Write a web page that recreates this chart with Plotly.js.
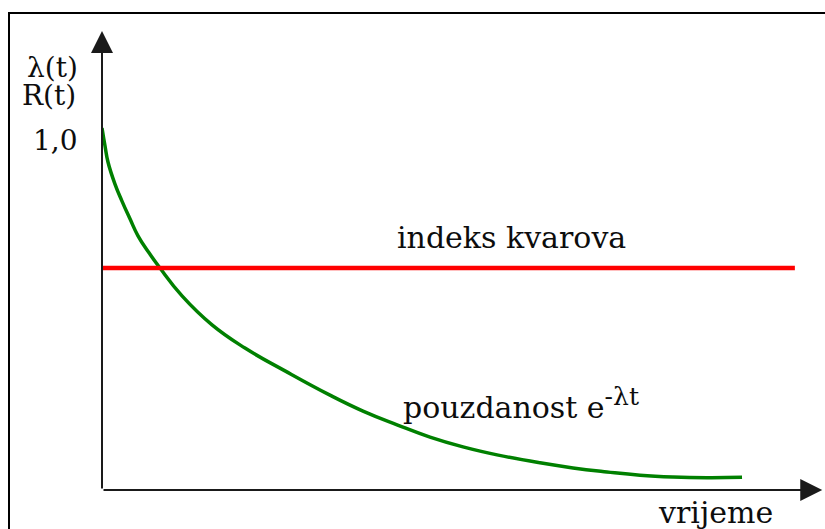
<!DOCTYPE html>
<html lang="en">
<head>
    <meta charset="utf-8">
    <script src="https://cdn.plot.ly/plotly-3.0.1.min.js"></script>
    <title>pouzdanost</title>
    <style>
        body { margin: 0; overflow: hidden; background: #fff; }
        #frame { position: absolute; left: 8px; top: 12px; width: 900px; height: 600px;
                 border-left: 2px solid #000; border-top: 2px solid #000; }
        #divPlot { position: absolute; left: 0; top: 0; width: 825px; height: 529px; }
    </style>
</head>

<body>
    <div id="frame"></div>
    <div id="divPlot"></div>
    <script>
        // vrijeme (t) i pouzdanost R(t) ocitano sa slike
        var vrijeme = [0, 0.042, 0.083, 0.180, 0.277, 0.388, 0.499, 0.652, 0.804, 1.110, 1.526, 1.983,
                       2.538, 3.162, 3.620, 4.092, 4.549, 5.007, 5.479, 6.075, 6.533, 7.004,
                       7.462, 7.920, 8.391, 8.877];
        var pouzdanost = [1.0, 0.950, 0.906, 0.845, 0.798, 0.749, 0.702, 0.655, 0.613, 0.536, 0.456, 0.392,
                          0.329, 0.262, 0.218, 0.180, 0.146, 0.119, 0.097, 0.075, 0.061, 0.050,
                          0.041, 0.036, 0.034, 0.035];
        // indeks kvarova - konstantan
        var kvarX = [0, 9.61];
        var kvarY = [0.613, 0.613];
        var yTickVals = [1];
        var yTickText = ['1,0'];

        var serif = 'DejaVu Serif';
        var ink = '#0d0d0d';

        var trace1 = {
            type: 'scatter',
            mode: 'lines',
            name: 'pouzdanost',
            x: vrijeme,
            y: pouzdanost,
            line: {color: '#008000', width: 3.5, shape: 'spline', smoothing: 1.3},
            cliponaxis: false
        };

        var trace2 = {
            type: 'scatter',
            mode: 'lines',
            name: 'indeks kvarova',
            x: kvarX,
            y: kvarY,
            line: {color: '#ff0000', width: 4.5},
            cliponaxis: false
        };

        var hidden = {showgrid: false, zeroline: false, showline: false,
                      showticklabels: false, ticks: '', fixedrange: true};

        var layout = {
            width: 825,
            height: 529,
            margin: {l: 102, r: 2, t: 28, b: 39},
            paper_bgcolor: 'rgba(0,0,0,0)',
            plot_bgcolor: 'rgba(0,0,0,0)',
            showlegend: false,
            hovermode: false,
            xaxis: Object.assign({}, hidden, {range: [0, 10]}),
            yaxis: Object.assign({}, hidden, {range: [0, 1.276]}),
            annotations: [
                // osi sa strelicama
                {x: 9.99, y: 0, ax: 0, ay: 0, xref: 'x', yref: 'y', axref: 'x', ayref: 'y',
                 text: '', showarrow: true, arrowhead: 2, arrowsize: 2.2, arrowwidth: 2, arrowcolor: '#1a1a1a'},
                {x: 0, y: 1.268, ax: 0, ay: 0, xref: 'x', yref: 'y', axref: 'x', ayref: 'y',
                 text: '', showarrow: true, arrowhead: 2, arrowsize: 2.2, arrowwidth: 2, arrowcolor: '#1a1a1a'},
                // oznake
                {x: 0, y: yTickVals[0], xref: 'x', yref: 'y', xanchor: 'right', yanchor: 'middle',
                 xshift: -22, yshift: -13, text: yTickText[0], showarrow: false,
                 font: {family: serif, size: 28, color: ink}},
                {x: 0, y: 1.276, xref: 'x', yref: 'y', xanchor: 'right', yanchor: 'middle',
                 xshift: -22, yshift: -39, text: 'λ(t)', showarrow: false,
                 font: {family: serif, size: 28, color: ink}},
                {x: 0, y: 1.276, xref: 'x', yref: 'y', xanchor: 'right', yanchor: 'middle',
                 xshift: -24, yshift: -67, text: 'R(t)', showarrow: false,
                 font: {family: serif, size: 28, color: ink}},
                {x: 4.06, y: kvarY[0], xref: 'x', yref: 'y', xanchor: 'left', yanchor: 'bottom',
                 yshift: 11, text: 'indeks kvarova', showarrow: false,
                 font: {family: serif, size: 30, color: ink}},
                {x: 4.15, y: 0.24, xref: 'x', yref: 'y', xanchor: 'left', yanchor: 'middle',
                 text: 'pouzdanost e<sup><span style="font-size:25px">-λt</span></sup>', showarrow: false,
                 font: {family: serif, size: 30, color: ink}},
                {x: 7.68, y: 0, xref: 'x', yref: 'y', xanchor: 'left', yanchor: 'top',
                 yshift: -3, text: 'vrijeme', showarrow: false,
                 font: {family: serif, size: 30, color: ink}}
            ]
        };

        var config = {responsive: false, displayModeBar: false, staticPlot: true};
        Plotly.newPlot('divPlot', [trace1, trace2], layout, config);
    </script>
</body>
</html>
